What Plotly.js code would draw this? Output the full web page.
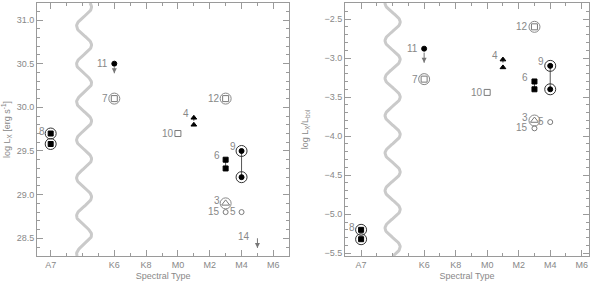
<!DOCTYPE html>
<html><head><meta charset="utf-8">
<script src="https://cdn.plot.ly/plotly-3.0.1.min.js"></script>
<style>html,body{margin:0;padding:0;background:#fff}#chart{width:600px;height:281px}</style>
</head><body><div id="chart"></div>
<script>
// ---------------- data ----------------
const spectralTickLabels = ['A7','K6','K8','M0','M2','M4','M6'];
const spectralTickValues = [-8, -4, -2, 0, 2, 4, 6];   // subclasses relative to M0
const starIds    = ['8','8','11','7','12','4','4','10','6','6','9','9','3','15','5','14'];
const starSpT    = [-8, -8, -4, -4, 3, 1, 1, 0, 3, 3, 4, 4, 3, 3, 4, 5];
const logLx      = [29.70,29.58,30.50,30.10,30.10,29.88,29.80,29.70,29.40,29.30,29.50,29.20,28.90,28.80,28.80,28.50];
const logLxLbol  = [-5.20,-5.32,-2.88,-3.27,-2.60,-3.02,-3.12,-3.44,-3.30,-3.40,-3.10,-3.40,-3.80,-3.90,-3.82,null];
const upperLimit = [false,false,true,false,false,false,false,false,false,false,false,false,false,false,false,true];

// ---------------- styles ----------------
const BLACK = '#000', GREY = '#7a7a7a', RING_DARK = '#333', RING_GREY = '#888', TXT = '#888', AX = '#9a9a9a';
const FONT = 'Liberation Sans, Arial, sans-serif';
const styles = {
  '8':  {symbol:'square', size:5, color:BLACK, ring:RING_DARK, dx:-4, dy:2},
  '11': {symbol:'circle', size:5, color:BLACK, dx:-4, dy:0},
  '7':  {symbol:'square-open', size:6, color:GREY, ring:RING_GREY, dx:-4, dy:0},
  '12': {symbol:'square-open', size:6, color:GREY, ring:RING_GREY, dx:-4, dy:0},
  '4':  {symbol:'triangle-up', size:5, color:BLACK, link:'dot', dx:-3, dy:4},
  '10': {symbol:'square-open', size:6, color:GREY, dx:-2, dy:0},
  '6':  {symbol:'square', size:5, color:BLACK, link:'solid', dx:-4, dy:4},
  '9':  {symbol:'circle', size:5, color:BLACK, ring:RING_DARK, link:'solid', dx:-4, dy:4},
  '3':  {symbol:'triangle-up-open', size:7, color:GREY, ring:RING_GREY, dx:-4, dy:3},
  '15': {symbol:'circle-open', size:5, color:GREY, dx:-4, dy:1},
  '5':  {symbol:'circle-open', size:5, color:GREY, dx:-4, dy:1},
  '14': {symbol:null, dx:-5, dy:2}
};

// decorative axis-break wave (not data)
function breakWave(xa, ya, center, amp, y0, y1, period, peakY) {
  const xs = [], ys = [];
  const n = 300;
  for (let k = 0; k <= n; k++) {
    const y = y0 + (y1 - y0) * k / n;
    xs.push(center + amp * Math.cos(2 * Math.PI * (y - peakY) / period));
    ys.push(y);
  }
  return {type:'scatter', mode:'lines', x:xs, y:ys, xaxis:xa, yaxis:ya,
          line:{color:'#cacaca', width:3}, hoverinfo:'skip', showlegend:false};
}

function panel(values, xa, ya, arrowLen, gap) {
  const traces = [], ann = [];
  [...new Set(starIds)].forEach(id => {
    const idx = starIds.map((s, i) => (s === id && values[i] != null) ? i : -1).filter(i => i >= 0);
    if (!idx.length) return;
    const st = styles[id];
    const xs = idx.map(i => starSpT[i]), ys = idx.map(i => values[i]);
    idx.forEach(i => {
      if (!upperLimit[i]) return;
      const start = values[i] - (st.symbol ? gap : 0);
      const end = values[i] - arrowLen;
      traces.push({type:'scatter', mode:'lines', x:[starSpT[i], starSpT[i]], y:[start, end],
        xaxis:xa, yaxis:ya, line:{color:'#777', width:1}, hoverinfo:'skip', showlegend:false});
      traces.push({type:'scatter', mode:'markers', x:[starSpT[i]], y:[end], xaxis:xa, yaxis:ya,
        marker:{symbol:'arrow-down', size:5, color:'#777', line:{width:0}},
        hoverinfo:'skip', showlegend:false});
    });
    if (st.symbol) {
      if (st.link) traces.push({type:'scatter', mode:'lines', x:xs, y:ys, xaxis:xa, yaxis:ya,
        line:{color:'#555', width:1, dash:st.link}, hoverinfo:'skip', showlegend:false});
      if (st.ring) traces.push({type:'scatter', mode:'markers', x:xs, y:ys, xaxis:xa, yaxis:ya,
        marker:{symbol:'circle-open', size:11, color:st.ring, line:{width:1, color:st.ring}},
        hoverinfo:'skip', showlegend:false});
      traces.push({type:'scatter', mode:'markers', x:xs, y:ys, xaxis:xa, yaxis:ya, name:id,
        marker:{symbol:st.symbol, size:st.size, color:st.color, line:{width:1, color:st.color}},
        showlegend:false});
    }
    const top = idx.reduce((a, b) => values[b] > values[a] ? b : a);
    ann.push({xref:xa, yref:ya, x:starSpT[top], y:values[top], text:id, showarrow:false,
      xanchor:'right', yanchor:'middle', xshift:st.dx, yshift:st.dy,
      font:{family:FONT, size:10, color:TXT}});
  });
  return {traces, ann};
}

const L = panel(logLx, 'x', 'y', 0.11, 0.04);
const R = panel(logLxLbol, 'x2', 'y2', 0.18, 0.05);

const yL = [28.297, 31.195], yR = [-5.535, -2.295];
const waves = [
  breakWave('x', 'y', -5.9, 0.47, yL[0], yL[1], 0.435, 28.538),
  breakWave('x2', 'y2', -6.0, 0.48, yR[0], yR[1], 0.48, -5.419)
];

const axisCommon = {showline:true, linecolor:AX, linewidth:1, mirror:'allticks', ticks:'inside',
  tickcolor:AX, ticklen:6, tickwidth:1, showgrid:false, zeroline:false, fixedrange:true,
  tickfont:{family:FONT, size:9, color:TXT}};
const xMinor = {tickmode:'linear', tick0:0, dtick:1, ticks:'inside', ticklen:3, tickcolor:AX, showgrid:false};
const yMinor = {tickmode:'linear', tick0:0, dtick:0.1, ticks:'inside', ticklen:3, tickcolor:AX, showgrid:false};
const titleFont = {family:FONT, size:9, color:TXT};

const layout = {
  width:600, height:281, paper_bgcolor:'#fff', plot_bgcolor:'#fff', showlegend:false,
  margin:{l:37, r:11, t:3, b:25},
  xaxis: Object.assign({}, axisCommon, {domain:[0, 0.457], range:[-8.86, 7.0], anchor:'y',
    tickmode:'array', tickvals:spectralTickValues, ticktext:spectralTickLabels, minor:xMinor,
    title:{text:'Spectral Type', font:titleFont, standoff:6}}),
  yaxis: Object.assign({}, axisCommon, {domain:[0, 1], range:yL, anchor:'x',
    tick0:0, dtick:0.5, tickformat:'.1f', minor:yMinor,
    title:{text:'log L<sub>X</sub> [erg s<sup>-1</sup>]', font:titleFont, standoff:7}}),
  xaxis2: Object.assign({}, axisCommon, {domain:[0.558, 1], range:[-9.02, 6.46], anchor:'y2',
    tickmode:'array', tickvals:spectralTickValues, ticktext:spectralTickLabels, minor:xMinor,
    title:{text:'Spectral Type', font:titleFont, standoff:6}}),
  yaxis2: Object.assign({}, axisCommon, {domain:[0, 1], range:yR, anchor:'x2', automargin:true,
    tick0:0, dtick:0.5, tickformat:'.1f', minor:yMinor,
    title:{text:'log L<sub>X</sub>/L<sub>bol</sub>', font:titleFont, standoff:14}}),
  annotations: L.ann.concat(R.ann)
};

Plotly.newPlot('chart', waves.concat(L.traces, R.traces), layout, {displayModeBar:false, staticPlot:true});
</script>
</body></html>
